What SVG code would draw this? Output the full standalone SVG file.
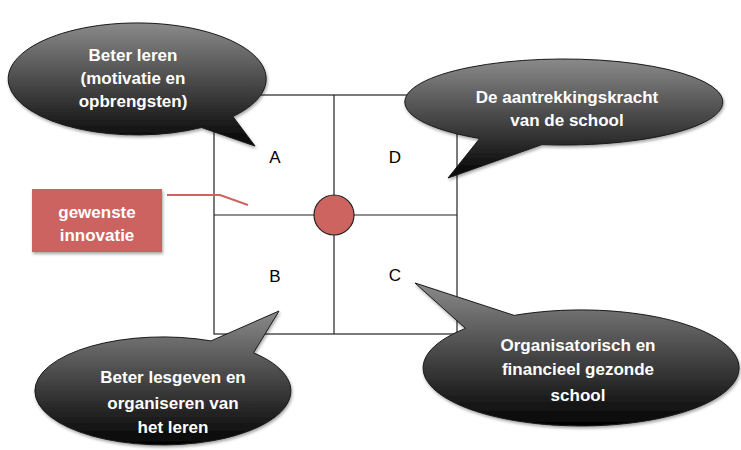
<svg xmlns="http://www.w3.org/2000/svg" width="741" height="450" viewBox="0 0 741 450">
<style>
.bub{fill:url(#g);stroke:#1a1a1a;stroke-width:1;filter:url(#sh)}
.bt{font-family:"Liberation Sans",Arial,sans-serif;font-weight:bold;font-size:17px;fill:#fff;text-anchor:middle}
.lbl{font-family:"Liberation Sans",Arial,sans-serif;font-size:17px;fill:#000;text-anchor:middle}
.grid{fill:none;stroke:#222;stroke-width:1.2}
</style>
<defs>
<linearGradient id="g" x1="0" y1="0" x2="0" y2="1">
<stop offset="0" stop-color="#8a8a8a"/>
<stop offset="1" stop-color="#030303"/>
</linearGradient>
<filter id="sh" x="-10%" y="-10%" width="120%" height="130%">
<feDropShadow dx="1" dy="2" stdDeviation="1.5" flood-color="#000" flood-opacity="0.35"/>
</filter>
</defs>
<rect width="741" height="450" fill="#fff"/>
<g id="grid">
<rect class="grid" x="214" y="95" width="243" height="239"/>
<line class="grid" x1="334" y1="95" x2="334" y2="334"/>
<line class="grid" x1="214" y1="215" x2="457" y2="215"/>
<text class="lbl" x="275" y="163">A</text>
<text class="lbl" x="395" y="163">D</text>
<text class="lbl" x="275" y="282">B</text>
<text class="lbl" x="395" y="281">C</text>
</g>
<g id="connectors">
<polyline points="167,195 220,195 248,205" fill="none" stroke="#cd6460" stroke-width="2"/>
</g>
<g id="center">
<circle cx="334" cy="215" r="20" fill="#cd6460" stroke="#222" stroke-width="1.2"/>
</g>
<g id="innovatie">
<rect x="32" y="189" width="130" height="63" fill="#cd6460" filter="url(#sh)"/>
<text class="bt" x="97" y="218">gewenste</text>
<text class="bt" x="97" y="241">innovatie</text>
</g>
<g id="bubbleA">
<path class="bub" d="M232.9,116.5 A129,56 0 1 0 201.5,127.5 L255,146 Z"/>
<text class="bt" x="133" y="61">Beter leren</text>
<text class="bt" x="133" y="84">(motivatie en</text>
<text class="bt" x="133" y="107">opbrengsten)</text>
</g>
<g id="bubbleD">
<path class="bub" d="M541.9,144.6 A159,43 0 1 0 479.7,138.5 L448,178 Z"/>
<text class="bt" x="567" y="103">De aantrekkingskracht</text>
<text class="bt" x="567" y="126">van de school</text>
</g>
<g id="bubbleB">
<path class="bub" d="M211,340.9 A128,54 0 1 0 253.5,352.8 L279,311 Z"/>
<text class="bt" x="173" y="383">Beter lesgeven en</text>
<text class="bt" x="173" y="409">organiseren van</text>
<text class="bt" x="173" y="433">het leren</text>
</g>
<g id="bubbleC">
<path class="bub" d="M465.5,328.4 A158,58 0 1 0 514.2,315.4 L415,283 Z"/>
<text class="bt" x="578" y="351">Organisatorisch en</text>
<text class="bt" x="578" y="375">financieel gezonde</text>
<text class="bt" x="578" y="401">school</text>
</g>
</svg>
